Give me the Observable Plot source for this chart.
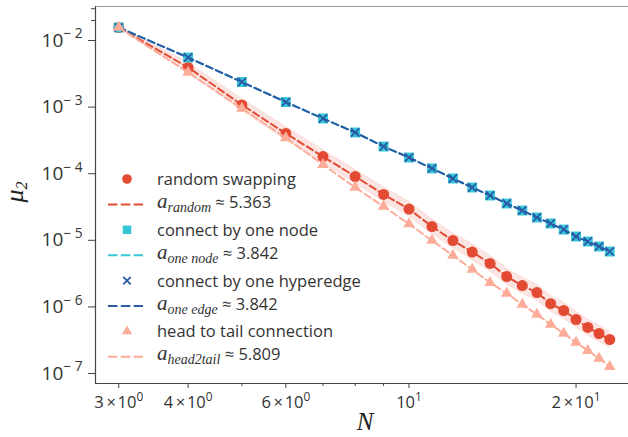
<!DOCTYPE html>
<html><head><meta charset="utf-8">
<script src="https://cdn.jsdelivr.net/npm/d3@7"></script>
<script src="https://cdn.jsdelivr.net/npm/@observablehq/plot@0.6"></script>
<style>
body{margin:0;background:#fff}
#chart{position:relative;width:628px;height:437px}
</style>
</head><body><div id="chart"></div>
<script>
// ---- data ----
const N = [3,4,5,6,7,8,9,10,11,12,13,14,15,16,17,18,19,20,21,22,23];
const randomSwap = [1.567e-2,3.94e-3,1.08e-3,4.02e-4,1.81e-4,9.08e-5,4.88e-5,2.95e-5,1.61e-5,9.93e-6,6.67e-6,4.49e-6,2.86e-6,2.09e-6,1.64e-6,1.12e-6,8.83e-7,6.47e-7,4.91e-7,3.99e-7,3.24e-7];
const randomBand = [0.02,0.07,0.09,0.1,0.1,0.1,0.11,0.11,0.11,0.11,0.12,0.12,0.12,0.12,0.12,0.12,0.12,0.12,0.12,0.12,0.12]; // half-width, decades
const oneNode = [1.567e-2,5.56e-3,2.38e-3,1.19e-3,6.75e-4,4.16e-4,2.56e-4,1.75e-4,1.20e-4,8.47e-5,6.21e-5,4.71e-5,3.57e-5,2.80e-5,2.20e-5,1.79e-5,1.45e-5,1.14e-5,9.59e-6,8.07e-6,6.79e-6];
const oneEdge = [1.567e-2,5.56e-3,2.38e-3,1.19e-3,6.75e-4,4.16e-4,2.56e-4,1.75e-4,1.20e-4,8.47e-5,6.21e-5,4.71e-5,3.57e-5,2.80e-5,2.20e-5,1.79e-5,1.45e-5,1.14e-5,9.59e-6,8.07e-6,6.79e-6];
const head2tail = [1.567e-2,3.31e-3,9.53e-4,3.44e-4,1.37e-4,6.21e-5,3.22e-5,1.76e-5,9.93e-6,5.92e-6,3.65e-6,2.32e-6,1.59e-6,1.09e-6,7.69e-7,5.45e-7,3.99e-7,2.92e-7,2.21e-7,1.68e-7,1.27e-7];
const exponents = {random: "5.363", node: "3.842", edge: "3.842", h2t: "5.809"};
const yTicks = [1e-7,1e-6,1e-5,1e-4,1e-3,1e-2];
const yTickLabels = ["10^− 7","10^− 6","10^− 5","10^− 4","10^− 3","10^− 2"];
const yMinor = [2e-2,3e-2];
const xTicks = [3,4,6,10,20];
const xTickLabels = ["3\u2009×\u200a10^0","4\u2009×\u200a10^0","6\u2009×\u200a10^0","10^1","2\u2009×\u200a10^1"];
const xMinor = [5,7,8,9];
const xDomain = [2.724, 24.86];
const yDomain = [7.08e-8, 3.24e-2];

const C = {red:"#e34a33", cyan:"#35c6d8", blue:"#2c5aa5", salmon:"#fcac98"};
const dash = "7,3.6";

const rows = arr => N.map((n,i) => ({N:n, v:arr[i]}));
const bandRows = N.map((n,i) => ({N:n, lo: randomSwap[i]*Math.pow(10,-randomBand[i]), hi: randomSwap[i]*Math.pow(10,randomBand[i])}));

const sans = "'Open Sans', sans-serif";
const chart = Plot.plot({
  width: 628, height: 437,
  marginLeft: 95, marginRight: 0, marginTop: 6, marginBottom: 54,
  style: {fontFamily: sans, color: "#333", background: "#fff", overflow: "visible"},
  x: {type: "log", domain: xDomain, label: null},
  y: {type: "log", domain: yDomain, label: null},
  marks: [
    Plot.areaY(bandRows, {x:"N", y1:"lo", y2:"hi", fill:C.red, fillOpacity:0.14, stroke:C.red, strokeOpacity:0.12}),
    Plot.dot(rows(randomSwap), {x:"N", y:"v", r:5.5, fill:C.red}),
    Plot.line(rows(randomSwap), {x:"N", y:"v", stroke:C.red, strokeWidth:2, strokeDasharray:dash}),
    Plot.dot(rows(oneNode), {x:"N", y:"v", symbol:"square", r:5.6, fill:C.cyan}),
    Plot.line(rows(oneNode), {x:"N", y:"v", stroke:C.cyan, strokeWidth:2, strokeDasharray:dash}),
    Plot.dot(rows(oneEdge), {x:"N", y:"v", symbol:"times", r:3.8, stroke:C.blue, strokeWidth:1.7}),
    Plot.line(rows(oneEdge), {x:"N", y:"v", stroke:C.blue, strokeWidth:2, strokeDasharray:dash}),
    Plot.dot(rows(head2tail), {x:"N", y:"v", symbol:"triangle", r:4.3, fill:C.salmon}),
    Plot.line(rows(head2tail), {x:"N", y:"v", stroke:C.salmon, strokeWidth:2, strokeDasharray:dash}),
    Plot.ruleY([yDomain[1]], {stroke:"#999", strokeWidth:1.2}),
    Plot.ruleY([yDomain[0]], {stroke:"#444", strokeWidth:1.2}),
    Plot.ruleX([xDomain[0]], {stroke:"#444", strokeWidth:1.2}),
    Plot.axisY({ticks: yTicks, tickFormat: d => yTickLabels[yTicks.indexOf(d)], tickSize: 7, tickPadding: 6, fontSize: 19, stroke:"#444"}),
    Plot.axisY({ticks: yMinor, tickFormat: () => "", tickSize: 4, stroke:"#444"}),
    Plot.axisX({ticks: xTicks, tickFormat: d => xTickLabels[xTicks.indexOf(d)], tickSize: 5, tickPadding: 8, fontSize: 16.5, stroke:"#444"}),
    Plot.axisX({ticks: xMinor, tickFormat: () => "", tickSize: 3, stroke:"#444"})
  ]
});
document.getElementById("chart").appendChild(chart);

// superscripts in tick labels
d3.select(chart).selectAll("text").each(function(){
  const t = this.textContent;
  if (!t.includes("^")) return;
  const [base, sup] = t.split("^");
  const el = d3.select(this);
  el.text(null);
  el.append("tspan").text(base);
  el.append("tspan").attr("font-size","0.72em").attr("dy","-0.6em").text(sup);
});

// legend + axis labels
const svg = d3.select(chart);
const lg = svg.append("g").attr("text-anchor","start");
const serif = "'Liberation Serif', 'Times New Roman', serif";
const entries = [
  {type:"dot", sym:d3.symbolCircle, size:Math.PI*4.8*4.8, fill:C.red, text:"random swapping"},
  {type:"line", color:C.red, sub:"random", val:exponents.random},
  {type:"dot", sym:d3.symbolSquare, size:Math.PI*4.8*4.8, fill:C.cyan, text:"connect by one node"},
  {type:"line", color:C.cyan, sub:"one node", val:exponents.node},
  {type:"dot", sym:d3.symbolTimes, size:Math.PI*3.5*3.5, stroke:C.blue, text:"connect by one hyperedge"},
  {type:"line", color:C.blue, sub:"one edge", val:exponents.edge},
  {type:"dot", sym:d3.symbolTriangle, size:Math.PI*3.8*3.8, fill:C.salmon, text:"head to tail connection"},
  {type:"line", color:C.salmon, sub:"head2tail", val:exponents.h2t}
];
entries.forEach((e,i) => {
  const y = 179 + i*25.4;
  if (e.type === "dot") {
    lg.append("path").attr("d", d3.symbol(e.sym, e.size)())
      .attr("transform", `translate(127,${y})`)
      .attr("fill", e.fill || "none").attr("stroke", e.stroke || "none").attr("stroke-width", 1.8);
    lg.append("text").attr("x",157).attr("y",y).attr("dy","0.36em").attr("text-anchor","start")
      .attr("font-family", sans).attr("font-size",16.5).attr("fill","#333").text(e.text);
  } else {
    lg.append("line").attr("x1",108).attr("x2",143).attr("y1",y).attr("y2",y)
      .attr("stroke", e.color).attr("stroke-width",2).attr("stroke-dasharray","9.5,3.3");
    const t = lg.append("text").attr("x",157).attr("y",y).attr("dy","0.36em").attr("text-anchor","start").attr("fill","#333");
    t.append("tspan").attr("font-family",serif).attr("font-style","italic").attr("font-size",21).text("a");
    t.append("tspan").attr("font-family",serif).attr("font-style","italic").attr("font-size",14).attr("dy",4).text(e.sub);
    t.append("tspan").attr("font-family",sans).attr("font-size",16.5).attr("dy",-4).text(" ≈ " + e.val);
  }
});
const yl = svg.append("text").attr("transform","translate(23,192) rotate(-90)")
  .attr("text-anchor","middle").attr("fill","#222").attr("font-family",serif).attr("font-style","italic");
yl.append("tspan").attr("font-size",26).text("μ");
yl.append("tspan").attr("font-size",16).attr("dy",4).text("2");
svg.append("text").attr("x",365).attr("y",430).attr("text-anchor","middle").attr("fill","#222")
  .attr("font-family",serif).attr("font-style","italic").attr("font-size",25).text("N");
</script>
</body></html>
